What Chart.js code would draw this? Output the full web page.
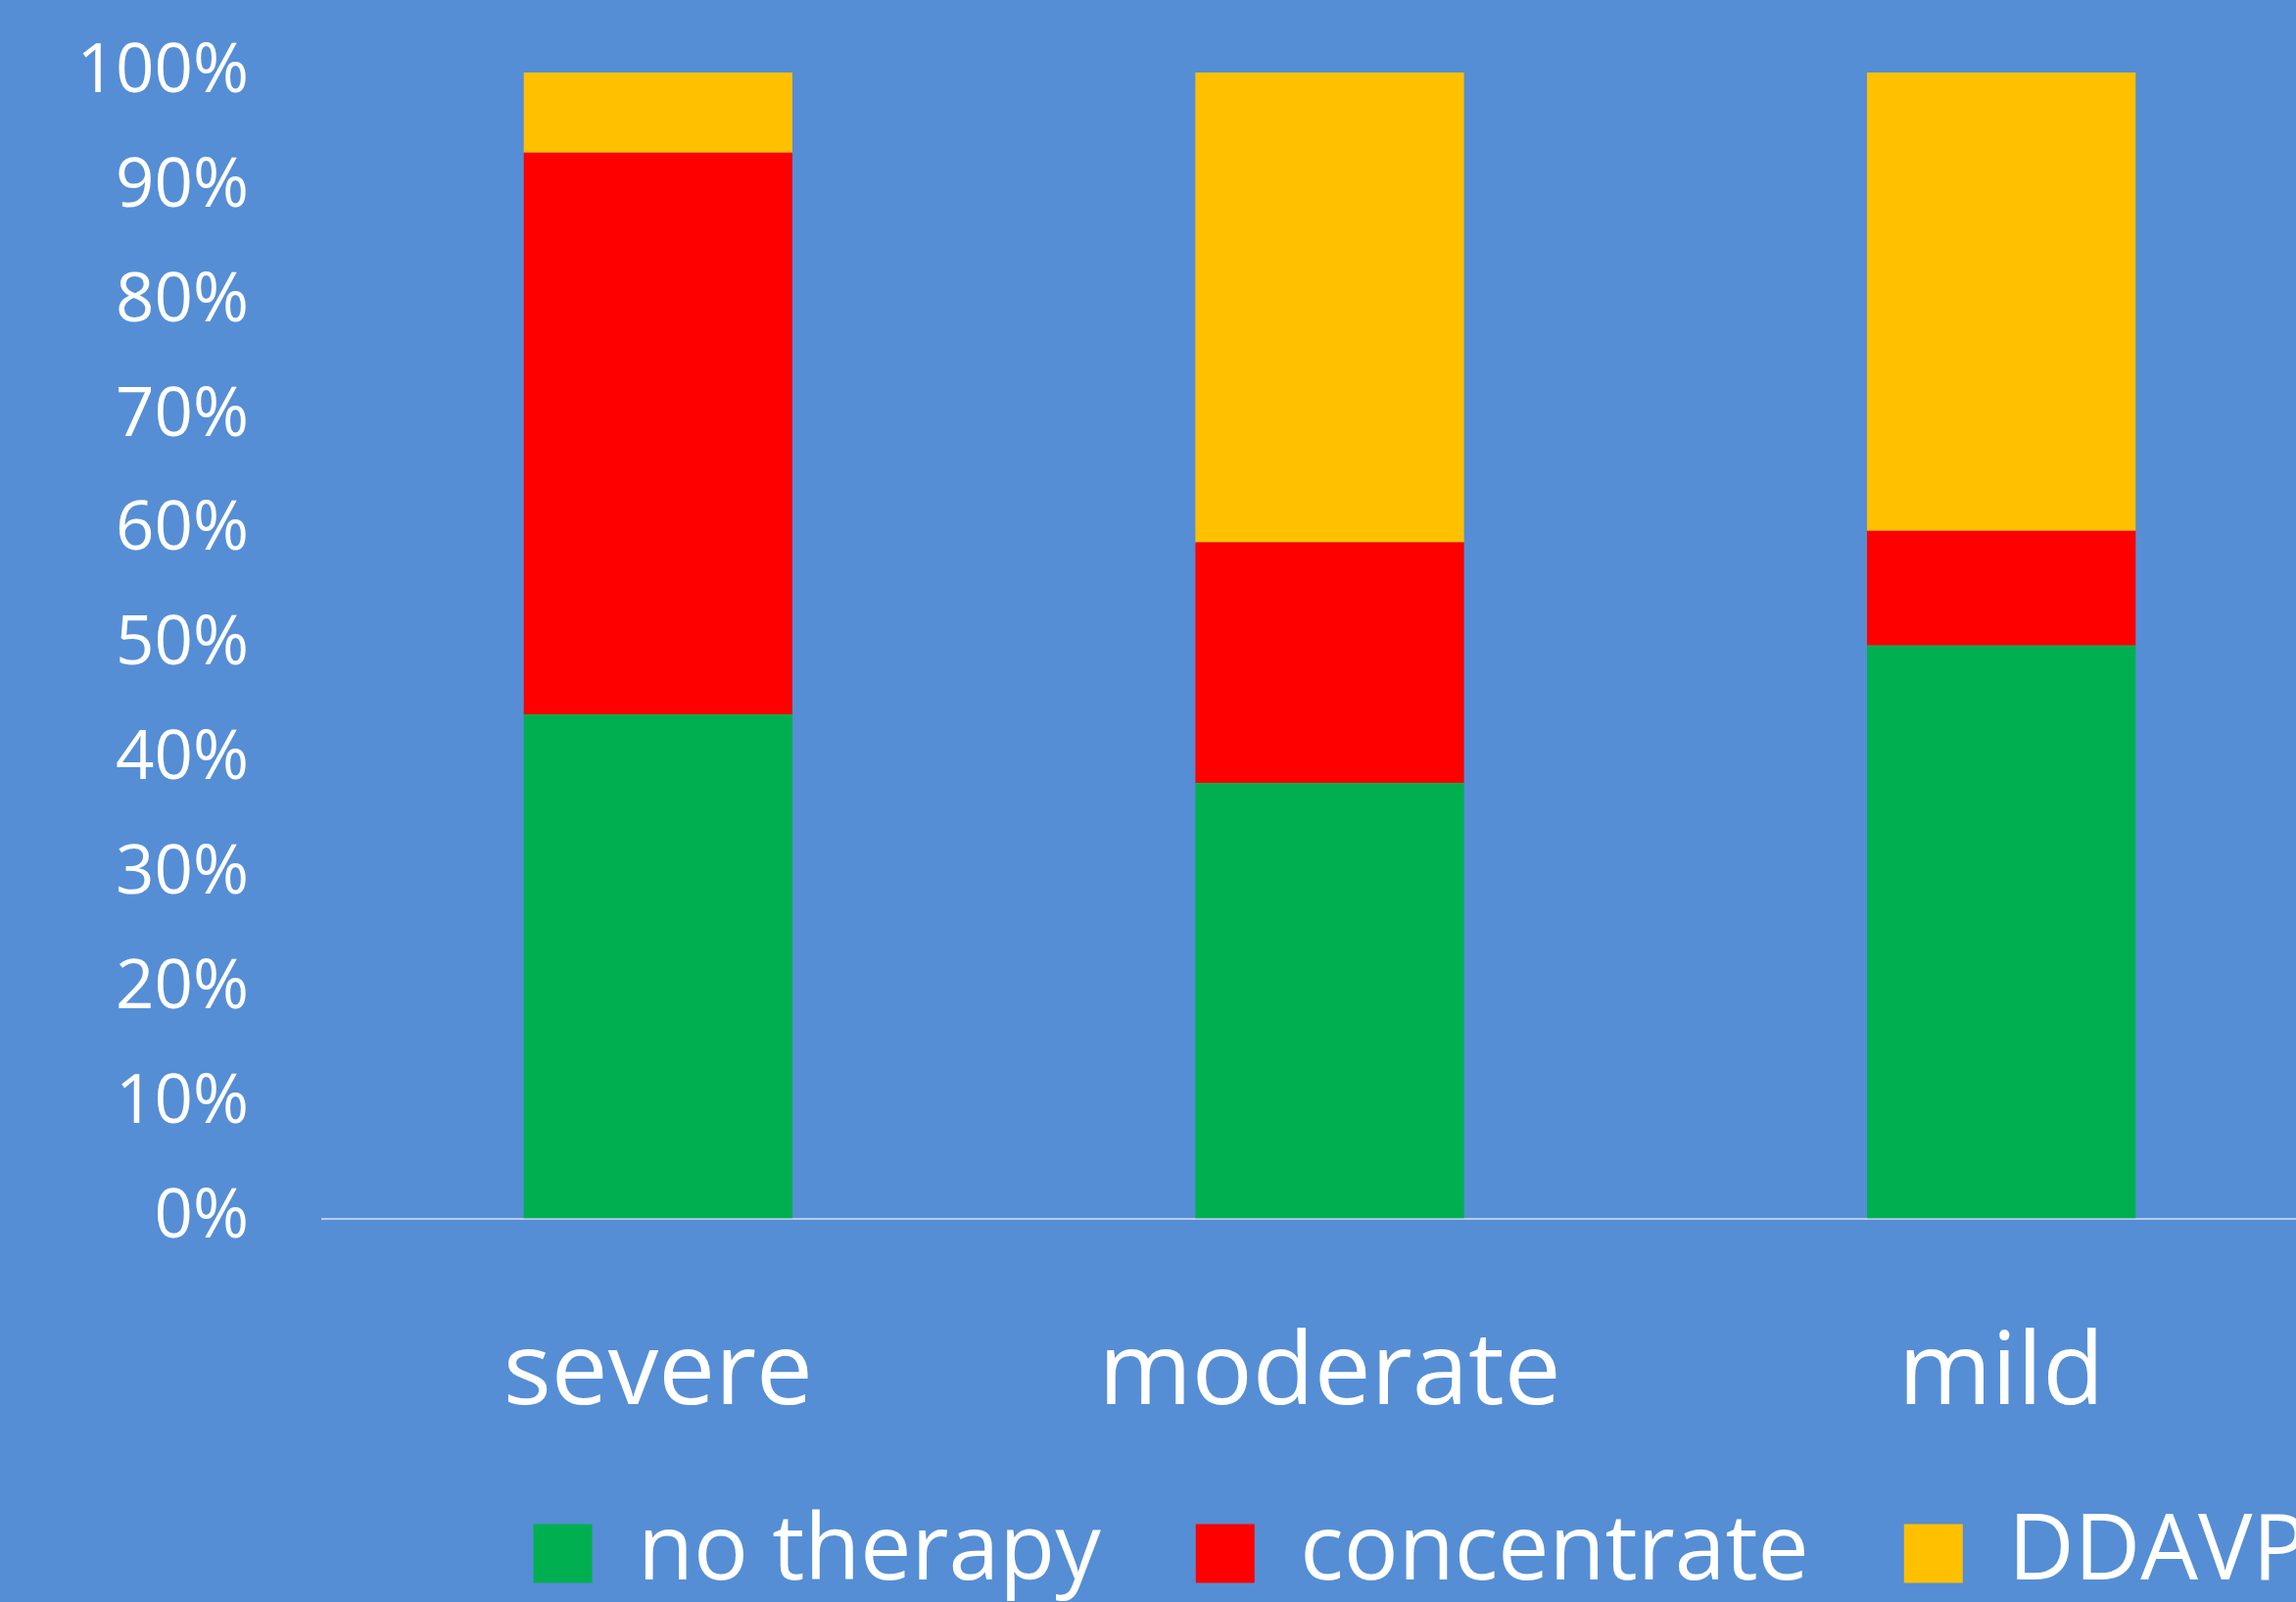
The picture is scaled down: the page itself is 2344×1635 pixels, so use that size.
<!DOCTYPE html>
<html>
<head>
<meta charset="utf-8">
<script src="https://cdn.jsdelivr.net/npm/chart.js@4/dist/chart.umd.min.js"></script>
<style>
  html, body { margin: 0; padding: 0; background: #558ED5; overflow: hidden; }
  #wrap { position: absolute; left: 0; top: 0; }
</style>
</head>
<body>
<div id="wrap"><canvas id="chart"></canvas></div>
<script>
// Treatment share by severity (percent of patients)
const categories = ['severe', 'moderate', 'mild'];
const noTherapy = [44, 38, 50];
const concentrate = [49, 21, 10];
const ddavp = [7, 41, 40];
const yTicks = [0, 10, 20, 30, 40, 50, 60, 70, 80, 90, 100];

const seriesNames = ['no therapy', 'concentrate', 'DDAVP'];
const seriesColors = ['#00B050', '#FF0000', '#FFC000'];

// The canvas runs past the right edge of the page, so the last category
// and the end of the legend are cut off by the window.
const W = 2900, H = 1642;
const PLOT_RIGHT = 2386;
const canvas = document.getElementById('chart');
canvas.width = W; canvas.height = H;
canvas.style.width = W + 'px'; canvas.style.height = H + 'px';

const FONT = "'Open Sans', 'Noto Sans', sans-serif";

new Chart(canvas, {
  type: 'bar',
  data: {
    labels: categories,
    datasets: [noTherapy, concentrate, ddavp].map((vals, i) => ({
      label: seriesNames[i],
      data: vals,
      backgroundColor: seriesColors[i],
      borderWidth: 0,
      barPercentage: 0.4,
      categoryPercentage: 1.0
    }))
  },
  options: {
    responsive: false,
    animation: false,
    devicePixelRatio: 1,
    layout: { padding: { top: 74, left: 0, right: 0, bottom: 0 } },
    plugins: {
      tooltip: { enabled: false },
      legend: {
        position: 'bottom',
        align: 'center',
        labels: {
          color: '#FFFFFF',
          boxWidth: 60,
          boxHeight: 60,
          padding: 97,
          font: { family: FONT, size: 93 }
        }
      }
    },
    scales: {
      x: {
        stacked: true,
        afterFit: (s) => { s.height = 198.5; },
        grid: { display: false, drawTicks: false },
        border: { display: true, color: '#B9CBEA', width: 2 },
        ticks: {
          color: '#FFFFFF',
          padding: 109,
          maxRotation: 0,
          font: { family: FONT, size: 103, lineHeight: 1.0 }
        }
      },
      y: {
        stacked: true,
        min: 0,
        max: 100,
        afterBuildTicks: (s) => { s.ticks = yTicks.map(v => ({ value: v })); },
        afterFit: (s) => {
          // fixed gutter; the plot area itself starts at the layout padding
          s.width = 329;
          s.paddingTop = 0;
          s.paddingBottom = 0;
        },
        grid: { display: false, drawTicks: false },
        border: { display: false },
        ticks: {
          color: '#FFFFFF',
          padding: 75,
          font: { family: FONT, size: 69 },
          callback: (v) => v + '%'
        }
      },
      yRight: {
        position: 'right',
        afterFit: (s) => { s.width = W - PLOT_RIGHT; },
        grid: { display: false, drawTicks: false },
        border: { display: false },
        ticks: { display: false }
      }
    }
  }
});
</script>
</body>
</html>
